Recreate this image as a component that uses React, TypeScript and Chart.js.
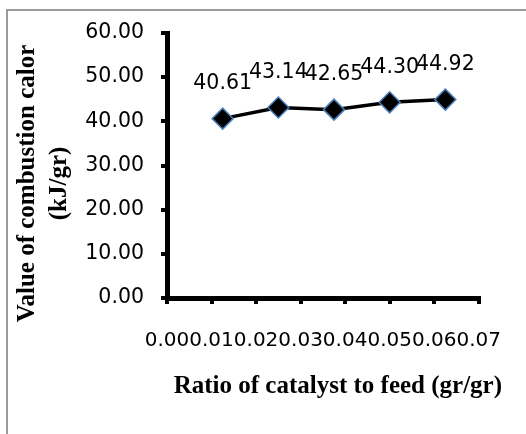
import { useEffect, useRef } from "react";
import { Chart, registerables } from "chart.js";

Chart.register(...registerables);

// ---- data ----
const catalystRatios = [0.0125, 0.025, 0.0375, 0.05, 0.0625];
const combustionCalor = [40.61, 43.14, 42.65, 44.3, 44.92];
const xTickRange = [0, 0.07, 0.01]; // min, max, step
const yTickRange = [0, 60, 10]; // min, max, step
const yTitleLines = ["Value of combustion calor", "(kJ/gr)"];
const xTitleText = "Ratio of catalyst to feed (gr/gr)";

const TICK_FONT = "DejaVu Sans";
const TITLE_FONT = "Liberation Serif";

const labelsPlugin = {
  id: "valueLabels",
  afterDatasetsDraw(chart: any) {
    const ctx = chart.ctx;
    const meta = chart.getDatasetMeta(0);
    ctx.save();
    ctx.font = `20.5px "${TICK_FONT}"`;
    ctx.fillStyle = "#000";
    ctx.textAlign = "center";
    ctx.textBaseline = "middle";
    meta.data.forEach((pt: any, i: number) => {
      ctx.fillText(combustionCalor[i].toFixed(2), pt.x, pt.y - 35);
    });
    ctx.restore();
  },
};

const axisTitlesPlugin = {
  id: "axisTitles",
  afterDraw(chart: any) {
    const ctx = chart.ctx;
    const area = chart.chartArea;
    ctx.save();
    ctx.fillStyle = "#000";
    ctx.font = `bold 25px "${TITLE_FONT}"`;
    ctx.textAlign = "center";
    ctx.textBaseline = "middle";
    // x title
    ctx.fillText(xTitleText, (area.left + area.right) / 2 + 15, area.bottom + 89);
    // y title (rotated)
    const cy = (area.top + area.bottom) / 2 + 18;
    yTitleLines.forEach((line, i) => {
      ctx.save();
      ctx.translate(28 + i * 32, cy);
      ctx.rotate(-Math.PI / 2);
      ctx.fillText(line, 0, 0);
      ctx.restore();
    });
    ctx.restore();
  },
};

export default function App() {
  const canvasRef = useRef<HTMLCanvasElement | null>(null);

  useEffect(() => {
    if (!canvasRef.current) return;
    const chart = new Chart(canvasRef.current, {
      type: "line",
      data: {
        datasets: [
          {
            data: catalystRatios.map((x, i) => ({ x, y: combustionCalor[i] })),
            borderColor: "#000",
            borderWidth: 3.5,
            pointStyle: "rectRot",
            pointRadius: 10.5,
            pointBackgroundColor: "#000",
            pointBorderColor: "#4a7ebb",
            pointBorderWidth: 1.5,
            tension: 0,
          },
        ],
      },
      options: {
        responsive: false,
        animation: false,
        devicePixelRatio: 1,
        layout: { padding: { top: 33, right: 47, left: 0, bottom: 0 } },
        plugins: {
          legend: { display: false },
          tooltip: { enabled: false },
          title: { display: false },
        },
        scales: {
          x: {
            type: "linear",
            min: xTickRange[0],
            max: xTickRange[1],
            afterFit: (scale: any) => {
              scale.height = 136;
            },
            ticks: {
              stepSize: xTickRange[2],
              autoSkip: false,
              maxRotation: 0,
              minRotation: 0,
              padding: 25,
              color: "#000",
              font: { family: TICK_FONT, size: 20 },
              callback: (v: any) => Number(v).toFixed(2),
            },
            grid: {
              drawOnChartArea: false,
              drawTicks: true,
              tickLength: 6,
              color: "#000",
              lineWidth: 4,
            },
            border: { display: true, color: "#000", width: 5 },
          },
          y: {
            min: yTickRange[0],
            max: yTickRange[1],
            afterFit: (scale: any) => {
              scale.width = 167;
            },
            ticks: {
              stepSize: yTickRange[2],
              padding: 17,
              color: "#000",
              font: { family: TICK_FONT, size: 20.5 },
              callback: (v: any) => Number(v).toFixed(2),
            },
            grid: {
              drawOnChartArea: false,
              drawTicks: true,
              tickLength: 6,
              color: "#000",
              lineWidth: 4,
            },
            border: { display: true, color: "#000", width: 5 },
          },
        },
      },
      plugins: [labelsPlugin, axisTitlesPlugin],
    });
    return () => chart.destroy();
  }, []);

  return (
    <div
      style={{
        position: "fixed",
        left: 0,
        top: 0,
        width: 526,
        height: 434,
        overflow: "hidden",
        background: "#fff",
      }}
    >
      <div
        style={{
          position: "absolute",
          left: 6,
          top: 9,
          width: 700,
          height: 700,
          border: "2px solid #9a9a9a",
        }}
      />
      <canvas
        ref={canvasRef}
        width={526}
        height={434}
        style={{ position: "absolute", left: 0, top: 0, width: 526, height: 434 }}
      />
    </div>
  );
}
